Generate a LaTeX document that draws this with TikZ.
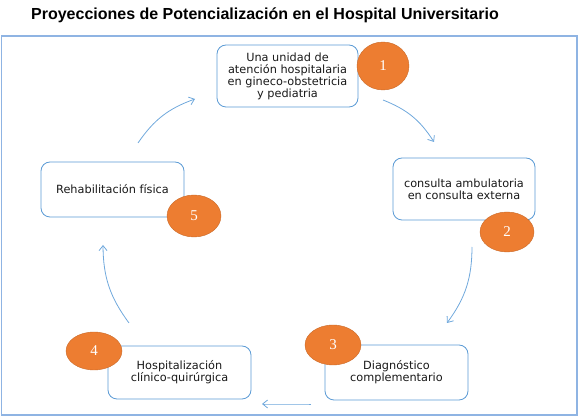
\documentclass[tikz,border=0pt]{standalone}
\usepackage{fontspec}
\setmainfont{Liberation Sans}
\newfontfamily\boxfont{DejaVu Sans}
\newfontfamily\numfont{Liberation Serif}
\usetikzlibrary{arrows.meta,shapes.geometric}
\definecolor{orng}{HTML}{ED7D31}
\definecolor{bxblue}{HTML}{5B9BD5}
\definecolor{frameblue}{HTML}{8FB4E3}
\definecolor{arrblue}{HTML}{6FA8DC}
\tikzset{
  stepbox/.style={draw=bxblue, line width=0.8pt, rounded corners=9pt, fill=white,
    align=center, inner sep=2pt, font={\boxfont\fontsize{11.3}{12}\selectfont}, text=black!90},
  numdot/.style={ellipse, fill=orng, draw=orng!85!black, line width=0.4pt, inner sep=0pt,
    text=white, font={\numfont\fontsize{15}{15}\selectfont}},
  flow/.style={draw=arrblue, line width=0.8pt, -{Straight Barb[length=5pt,width=8pt]}, bend left=18}
}
\begin{document}
\begin{tikzpicture}[x=1pt,y=-1pt]
\useasboundingbox (0,0) rectangle (582,419);
\node[font={\bfseries\fontsize{16}{18}\selectfont}] (title) at (265,15) {Proyecciones de Potencialización en el Hospital Universitario};
\draw[frameblue, line width=1.2pt] (1.5,36) rectangle (577,415);

\node[stepbox, minimum width=141pt, minimum height=62pt] (b1) at (287.5,76)
  {Una unidad de\\atención hospitalaria\\en gineco-obstetricia\\y pediatria};
\node[stepbox, minimum width=142pt, minimum height=62pt] (b2) at (464,189)
  {consulta ambulatoria\\en consulta externa};
\node[stepbox, minimum width=143pt, minimum height=55pt] (b3) at (396.5,372.5)
  {Diagnóstico\\complementario};
\node[stepbox, minimum width=143pt, minimum height=53pt] (b4) at (179.5,372.5)
  {Hospitalización\\clínico-quirúrgica};
\node[stepbox, minimum width=143pt, minimum height=55pt] (b5) at (112.5,189.5)
  {Rehabilitación física};

\node[numdot, minimum width=52pt, minimum height=48pt] (n1) at (383,66) {1};
\node[numdot, minimum width=54pt, minimum height=40pt] (n2) at (507,232) {2};
\node[numdot, minimum width=56pt, minimum height=40pt] (n3) at (333,345) {3};
\node[numdot, minimum width=56pt, minimum height=38pt] (n4) at (94,351) {4};
\node[numdot, minimum width=54pt, minimum height=42pt] (n5) at (194,216) {5};

\coordinate (a1s) at (383,100); \coordinate (a1e) at (434,142);
\coordinate (a2s) at (472,247); \coordinate (a2e) at (447,323);
\coordinate (a3s) at (311,404); \coordinate (a3e) at (262,404);
\coordinate (a4s) at (129,323); \coordinate (a4e) at (103,245);
\coordinate (a5s) at (138,143); \coordinate (a5e) at (195,99);
\draw[flow] (a1s) to (a1e);
\draw[flow] (a2s) to (a2e);
\draw[flow, bend left=0] (a3s) to (a3e);
\draw[flow] (a4s) to (a4e);
\draw[flow] (a5s) to (a5e);
\end{tikzpicture}
\end{document}
